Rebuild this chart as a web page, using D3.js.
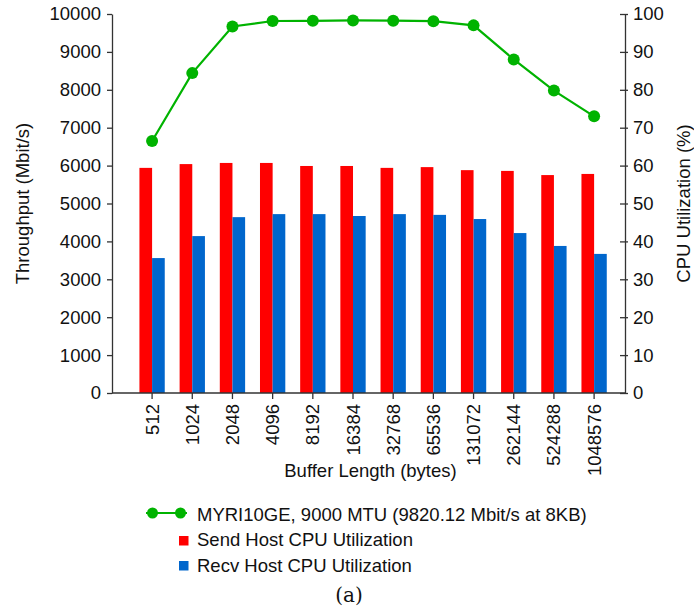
<!DOCTYPE html>
<html>
<head>
<meta charset="utf-8">
<script src="https://cdn.jsdelivr.net/npm/d3@7"></script>
<style>
  html, body { margin: 0; padding: 0; background: #fff; }
  svg { display: block; }
  text { font-family: "Liberation Sans", Arial, Helvetica, sans-serif; fill: #111; }
</style>
</head>
<body>
<svg id="chart" width="694" height="612"></svg>
<script>
// Buffer lengths tested (bytes)
const bufferLengths = ["512", "1024", "2048", "4096", "8192", "16384", "32768",
  "65536", "131072", "262144", "524288", "1048576"];

// Throughput for MYRI10GE, 9000 MTU (Mbit/s)
const throughput = [6650, 8440, 9670, 9815, 9820.12, 9830, 9825, 9810, 9700, 8800, 7980, 7300];

// CPU utilisation on each host (%)
const sendCpu = [59.4, 60.4, 60.7, 60.7, 59.9, 59.9, 59.4, 59.6, 58.8, 58.6, 57.5, 57.8];
const recvCpu = [35.6, 41.4, 46.4, 47.2, 47.2, 46.7, 47.2, 47.0, 45.9, 42.2, 38.8, 36.7];

// Axis ticks
const throughputTicks = [0, 1000, 2000, 3000, 4000, 5000, 6000, 7000, 8000, 9000, 10000];
const cpuTicks = [0, 10, 20, 30, 40, 50, 60, 70, 80, 90, 100];

const seriesNames = ["MYRI10GE, 9000 MTU (9820.12 Mbit/s at 8KB)",
  "Send Host CPU Utilization", "Recv Host CPU Utilization"];
const colors = { line: "#00b300", send: "#ff0000", recv: "#0066cc" };

const svg = d3.select("#chart");
const plot = { left: 112, right: 625, top: 14, bottom: 393 };
const fontSize = 18.5;

const x = d3.scaleBand()
  .domain(bufferLengths)
  .range([132, 614.2])
  .paddingInner(0.37)
  .paddingOuter(0.185);
const xSub = d3.scaleBand()
  .domain(["send", "recv"])
  .range([0, x.bandwidth()]);

const yLeft = d3.scaleLinear().domain([0, 10000]).range([plot.bottom, plot.top]);
const yRight = d3.scaleLinear().domain([0, 100]).range([plot.bottom, plot.top]);

// Bars
const groups = svg.append("g").selectAll("g")
  .data(bufferLengths)
  .join("g")
  .attr("transform", d => `translate(${x(d)},0)`);

groups.append("rect")
  .attr("x", xSub("send"))
  .attr("width", xSub.bandwidth())
  .attr("y", (d, i) => yRight(sendCpu[i]))
  .attr("height", (d, i) => yRight(0) - yRight(sendCpu[i]))
  .attr("fill", colors.send);

groups.append("rect")
  .attr("x", xSub("recv"))
  .attr("width", xSub.bandwidth())
  .attr("y", (d, i) => yRight(recvCpu[i]))
  .attr("height", (d, i) => yRight(0) - yRight(recvCpu[i]))
  .attr("fill", colors.recv);

// Axes
const axisStyle = g => {
  g.selectAll("path, line").attr("stroke", "#333").attr("stroke-width", 1.3);
  g.selectAll("text").attr("font-size", fontSize).attr("fill", "#111")
    .style("font-family", "'Liberation Sans', Arial, sans-serif");
};

svg.append("g")
  .attr("transform", `translate(${plot.left},0)`)
  .call(d3.axisLeft(yLeft).tickValues(throughputTicks).tickFormat(d3.format("d"))
    .tickSizeInner(5).tickSizeOuter(0).tickPadding(6))
  .call(axisStyle);

svg.append("g")
  .attr("transform", `translate(${plot.right},0)`)
  .call(d3.axisRight(yRight).tickValues(cpuTicks).tickFormat(d3.format("d"))
    .tickSizeInner(5).tickSizeOuter(0).tickPadding(3))
  .call(g => g.selectAll(".tick line").attr("x1", -5).attr("x2", 3))
  .call(g => g.selectAll(".tick text").attr("x", 8))
  .call(axisStyle);

// Baseline and category ticks
svg.append("line")
  .attr("x1", plot.left).attr("x2", plot.right)
  .attr("y1", plot.bottom).attr("y2", plot.bottom)
  .attr("stroke", "#333").attr("stroke-width", 1.3);

const xAxis = svg.append("g")
  .attr("transform", `translate(0,${plot.bottom})`)
  .call(d3.axisBottom(x).tickSizeInner(6).tickSizeOuter(0).tickPadding(4));
xAxis.select(".domain").remove();
xAxis.call(axisStyle);
xAxis.selectAll(".tick text")
  .attr("transform", "rotate(-90)")
  .attr("text-anchor", "end")
  .attr("dominant-baseline", "central")
  .attr("x", -11)
  .attr("y", 0)
  .attr("dy", null);

// Throughput line
const lineGen = d3.line()
  .x((d, i) => x(bufferLengths[i]) + x.bandwidth() / 2)
  .y(d => yLeft(d));

svg.append("path")
  .datum(throughput)
  .attr("fill", "none")
  .attr("stroke", colors.line)
  .attr("stroke-width", 2.2)
  .attr("d", lineGen);

svg.append("g").selectAll("circle")
  .data(throughput)
  .join("circle")
  .attr("cx", (d, i) => x(bufferLengths[i]) + x.bandwidth() / 2)
  .attr("cy", d => yLeft(d))
  .attr("r", 6)
  .attr("fill", colors.line);

// Axis titles
svg.append("text")
  .attr("transform", `translate(22,${(plot.top + plot.bottom) / 2}) rotate(-90)`)
  .attr("text-anchor", "middle")
  .attr("dominant-baseline", "central")
  .attr("font-size", fontSize)
  .text("Throughput (Mbit/s)");

svg.append("text")
  .attr("transform", `translate(683,${(plot.top + plot.bottom) / 2}) rotate(-90)`)
  .attr("text-anchor", "middle")
  .attr("dominant-baseline", "central")
  .attr("font-size", fontSize)
  .text("CPU Utilization (%)");

svg.append("text")
  .attr("x", (plot.left + plot.right) / 2 + 2)
  .attr("y", 470)
  .attr("text-anchor", "middle")
  .attr("dominant-baseline", "central")
  .attr("font-size", fontSize)
  .text("Buffer Length (bytes)");

// Legend
const legend = svg.append("g");
legend.append("line")
  .attr("x1", 146).attr("x2", 187).attr("y1", 513).attr("y2", 513)
  .attr("stroke", colors.line).attr("stroke-width", 2);
legend.selectAll("circle.lg")
  .data([152.5, 180.5])
  .join("circle")
  .attr("class", "lg")
  .attr("cx", d => d).attr("cy", 513).attr("r", 5.5)
  .attr("fill", colors.line);
legend.append("rect").attr("x", 179).attr("y", 536).attr("width", 9.5).attr("height", 9.5).attr("fill", colors.send);
legend.append("rect").attr("x", 179).attr("y", 561).attr("width", 9.5).attr("height", 9.5).attr("fill", colors.recv);

legend.selectAll("text")
  .data(seriesNames)
  .join("text")
  .attr("x", 197)
  .attr("y", (d, i) => 514 + i * 25.5)
  .attr("dominant-baseline", "central")
  .attr("font-size", fontSize)
  .text(d => d);

// Sub-figure caption
svg.append("text")
  .attr("x", 349)
  .attr("y", 595)
  .attr("text-anchor", "middle")
  .attr("dominant-baseline", "central")
  .attr("font-size", 20)
  .style("font-family", "'DejaVu Serif', 'Liberation Serif', serif")
  .text("(a)");
</script>
</body>
</html>
